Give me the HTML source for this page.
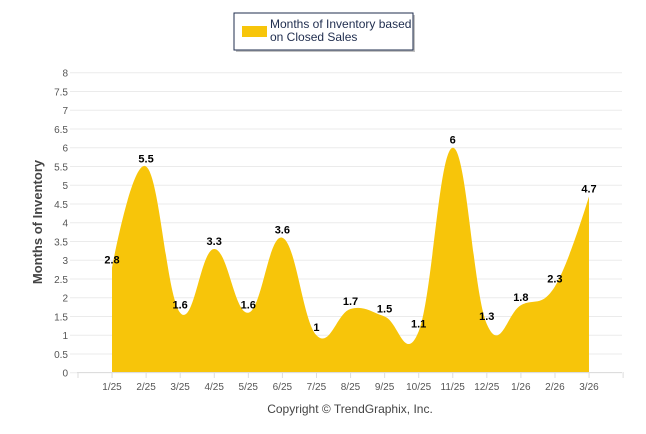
<!DOCTYPE html>
<html><head><style>
body{margin:0;background:#fff;}
svg{display:block;font-family:"Liberation Sans",Arial,sans-serif;}
</style></head><body>
<svg id="c" width="646" height="434" xmlns="http://www.w3.org/2000/svg">
<rect x="236" y="15" width="179" height="37" fill="#888" opacity="0.5"/>
<rect x="234" y="13" width="179" height="37" fill="#fff" stroke="#1f2d4e" stroke-width="1"/>
<rect x="242" y="26" width="25" height="11" fill="#f7c50a"/>
<text x="270" y="28" font-size="12" fill="#1f2d4e">Months of Inventory based</text>
<text x="270" y="41" font-size="12" fill="#1f2d4e">on Closed Sales</text>
<g id="grid"></g>
<path id="area" fill="#f7c50a"/>
<line x1="77" y1="372.5" x2="622" y2="372.5" stroke="#ddd"/>
<g id="lab"></g>
<text transform="translate(42,222) rotate(-90)" text-anchor="middle" font-size="13" font-weight="bold" fill="#444">Months of Inventory</text>
<text x="350" y="413" text-anchor="middle" font-size="12" fill="#444">Copyright © TrendGraphix, Inc.</text>
</svg>
<script>
var y0=372.7,u=37.5,x0=112,dx=34.07;
var vals=[2.8,5.5,1.6,3.3,1.6,3.6,1,1.7,1.5,1.1,6,1.3,1.8,2.3,4.7];
var labs=["1/25","2/25","3/25","4/25","5/25","6/25","7/25","8/25","9/25","10/25","11/25","12/25","1/26","2/26","3/26"];
var g='',ns='';
for(var i=0;i<=16;i++){var y=y0-i*u/2;g+='<line x1="70" x2="622" y1="'+y+'" y2="'+y+'" stroke="#ebebeb"/>';
g+='<text x="68" y="'+(y+4)+'" text-anchor="end" font-size="10" fill="#555">'+(i/2)+'</text>';}
for(var i=-1;i<16;i++){var tx=78+dx*(i+1);g+='<line x1="'+tx+'" x2="'+tx+'" y1="372" y2="378" stroke="#ddd"/>';}
labs.forEach(function(l,i){g+='<text x="'+(x0+dx*i)+'" y="390" text-anchor="middle" font-size="10" fill="#555">'+l+'</text>';});
document.getElementById('grid').innerHTML=g;
var P=vals.map(function(v,i){return [x0+dx*i,y0-v*u];});
var d='M'+P[0][0]+','+y0+'L'+P[0][0]+','+P[0][1];
function cps(i){var s=1.5,den=s+1,p=P[i],a=P[i-1],b=P[i+1];
var lx=(s*p[0]+a[0])/den,ly=(s*p[1]+a[1])/den,rx=(s*p[0]+b[0])/den,ry=(s*p[1]+b[1])/den,c=0;
if(rx!==lx)c=((ry-ly)*(rx-p[0]))/(rx-lx)+p[1]-ry;ly+=c;ry+=c;
return {l:[lx,ly],r:[rx,ry]};}
var C=[];for(var i=1;i<P.length-1;i++)C[i]=cps(i);
for(var i=1;i<P.length;i++){var a=P[i-1],b=P[i];var c1=C[i-1]?C[i-1].r:a,c2=C[i]?C[i].l:b;
d+='C'+c1[0]+','+c1[1]+' '+c2[0]+','+c2[1]+' '+b[0]+','+b[1];}
d+='L'+P[P.length-1][0]+','+y0+'Z';
document.getElementById('area').setAttribute('d',d);
P.forEach(function(p,i){ns+='<text x="'+p[0]+'" y="'+(p[1]-4)+'" text-anchor="middle" font-size="11" font-weight="bold" fill="#000">'+vals[i]+'</text>';});
document.getElementById('lab').innerHTML=ns;
</script>
</body></html>
